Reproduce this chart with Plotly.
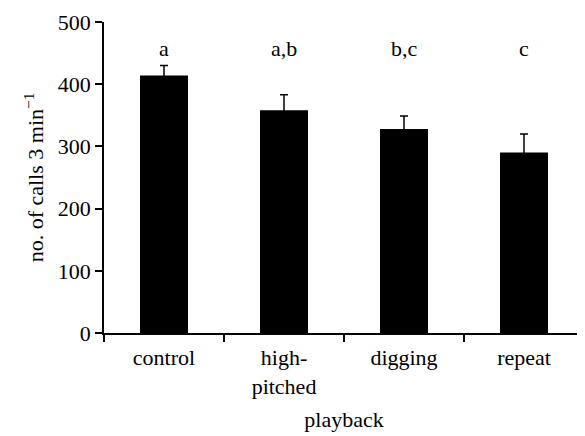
import plotly.graph_objects as go

categories = ["control", "high-pitched", "digging", "repeat"]
tick_labels = ["control", "high-<br>pitched", "digging", "repeat"]
means = [414, 358, 328, 290]
se_upper = [16, 25, 21, 30]
letters = ["a", "a,b", "b,c", "c"]
letter_y = 458

FONT = "Liberation Serif"
FS = 22

fig = go.Figure()
fig.add_trace(go.Bar(
    x=categories, y=means,
    marker=dict(color="black", line=dict(width=0)),
    width=0.4,
    # lower half is hidden inside the black bar
    error_y=dict(type="data", array=se_upper, symmetric=True,
                 color="black", thickness=1.5, width=4),
))

for c, l in zip(categories, letters):
    fig.add_annotation(x=c, y=letter_y, text=l, showarrow=False,
                       font=dict(family=FONT, size=FS, color="black"))

# page body has an 8px margin, so the figure is sized to fit inside the window
fig.update_layout(
    width=577, height=428,
    margin=dict(l=96, r=1, t=14, b=103),
    plot_bgcolor="white", paper_bgcolor="white",
    showlegend=False,
    font=dict(family=FONT, size=FS, color="black"),
)
fig.update_xaxes(
    type="category", tickvals=categories, ticktext=tick_labels,
    range=[-0.5, 3.5],
    showline=True, linecolor="black", linewidth=1.5,
    ticks="outside", tickson="boundaries", ticklen=7, tickwidth=1.5, tickcolor="black",
    ticklabelstandoff=4,
    showgrid=False, zeroline=False,
    title=dict(text="playback", font=dict(family=FONT, size=FS), standoff=14),
    tickfont=dict(family=FONT, size=FS),
)
fig.update_yaxes(
    range=[0, 500], tickvals=[0, 100, 200, 300, 400, 500],
    showline=True, linecolor="black", linewidth=1.5,
    ticks="outside", ticklen=7, tickwidth=1.5, tickcolor="black",
    showgrid=False, zeroline=False,
    title=dict(text="no. of calls 3 min<sup>−1</sup>", font=dict(family=FONT, size=FS), standoff=8),
    tickfont=dict(family=FONT, size=FS),
)

fig.write_html("out.html")
